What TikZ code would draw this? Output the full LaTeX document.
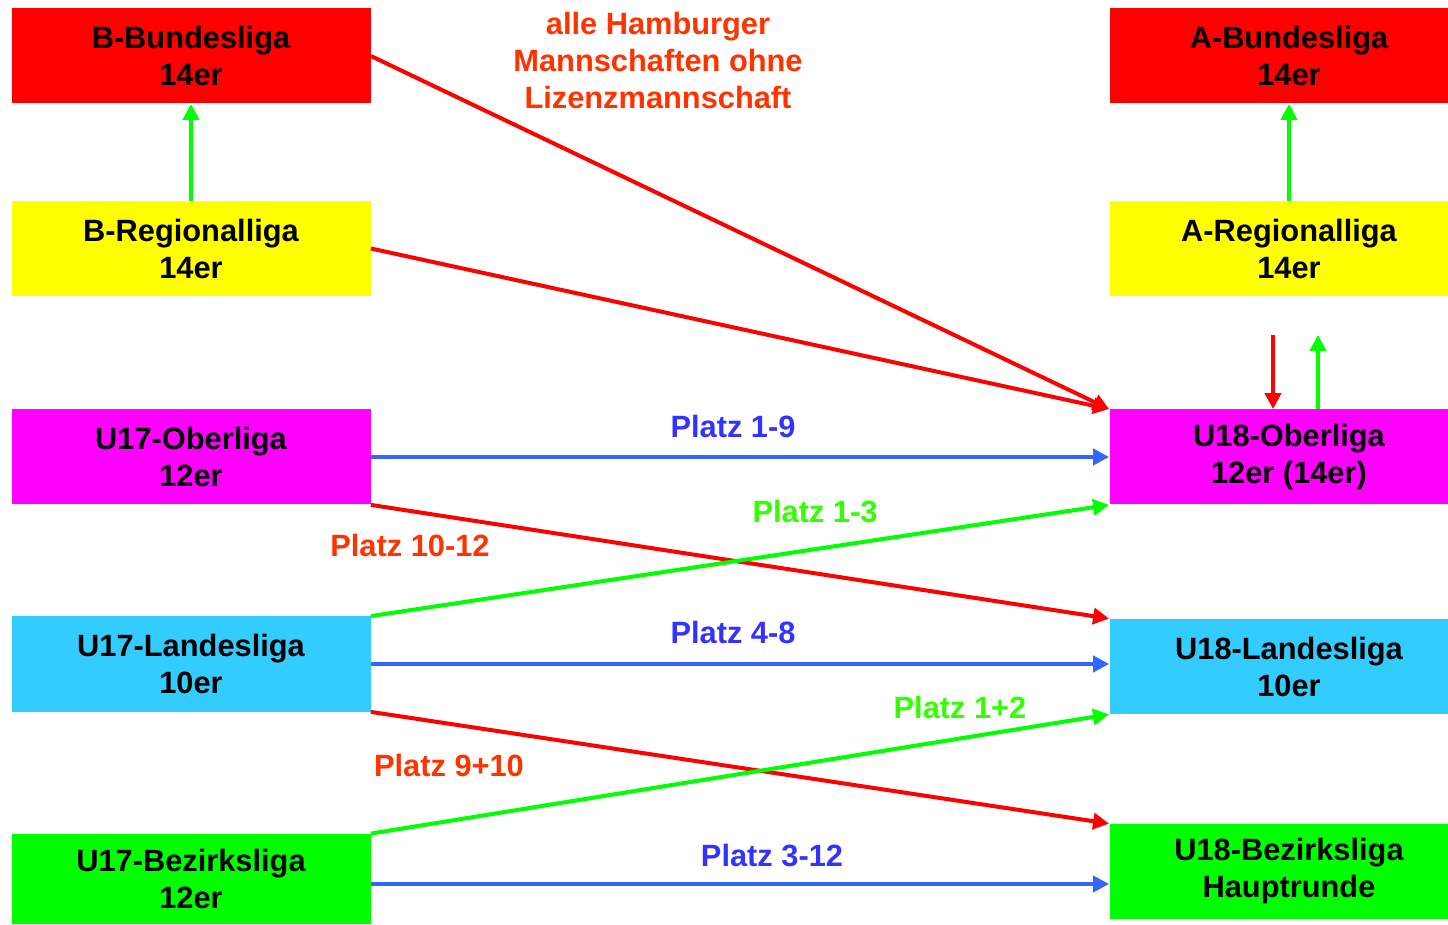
\documentclass[tikz,border=0pt]{standalone}
\usepackage{fontspec}
\setmainfont{Liberation Sans}
\usetikzlibrary{arrows.meta,calc}
\definecolor{cred}{HTML}{FF0000}
\definecolor{cyel}{HTML}{FFFF00}
\definecolor{cmag}{HTML}{FF00FF}
\definecolor{ccyan}{HTML}{33CCFF}
\definecolor{cgreen}{HTML}{00FF00}
\definecolor{lblue}{HTML}{3333FF}
\definecolor{lineblue}{HTML}{3366FF}
\definecolor{lorange}{HTML}{FF3300}
\definecolor{lgreen}{HTML}{33FF00}
\tikzset{
  box/.style={inner sep=0pt, minimum width=179.5pt, minimum height=47.5pt, align=center,
    font=\fontsize{15.4}{18.5}\selectfont\bfseries, text=black},
  lab/.style={inner sep=0pt, font=\fontsize{15.4}{18.5}\selectfont\bfseries, align=center},
  conn/.style={line width=2pt, -{Triangle[length=8pt,width=8pt]}},
}
\begin{document}
\begin{tikzpicture}[x=0.5pt,y=-0.5pt]
\useasboundingbox (0,0) rectangle (1448,925);
% left column
\node[box, fill=cred] (bb) at (191,56) {B-Bundesliga\\14er};
\node[box, fill=cyel] (br) at (191,248.5) {B-Regionalliga\\14er};
\node[box, fill=cmag] (u17o) at (191,457) {U17-Oberliga\\12er};
\node[box, fill=ccyan] (u17l) at (191,664) {U17-Landesliga\\10er};
\node[box, fill=cgreen, minimum height=45pt] (u17b) at (191,879) {U17-Bezirksliga\\12er};
% right column
\node[box, fill=cred] (ab) at (1289,56) {A-Bundesliga\\14er};
\node[box, fill=cyel] (ar) at (1289,248.5) {A-Regionalliga\\14er};
\node[box, fill=cmag] (u18o) at (1289,457) {U18-Oberliga\\12er (14er)};
\node[box, fill=ccyan] (u18l) at (1289,666.5) {U18-Landesliga\\10er};
\node[box, fill=cgreen] (u18b) at (1289,871.5) {U18-Bezirksliga\\Hauptrunde};
% text
\node[lab, text=lorange] (hh) at (658,60) {alle Hamburger\\Mannschaften ohne\\Lizenzmannschaft};
% vertical promotions
\draw[conn, draw=cgreen, fill=cgreen] (br.north) -- (bb.south);
\draw[conn, draw=cgreen, fill=cgreen] (ar.north) -- (ab.south);
\coordinate (rtop) at (1273,335);
\coordinate (gtop) at (1318,335);
\draw[conn, draw=cred, fill=cred] (rtop) -- (rtop |- u18o.north);
\draw[conn, draw=cgreen, fill=cgreen] (gtop |- u18o.north) -- (gtop);
% red into U18-Oberliga
\draw[conn, draw=cred, fill=cred] (bb.east) -- (u18o.north west);
\draw[conn, draw=cred, fill=cred] (br.east) -- (u18o.north west);
% U17-Oberliga
\draw[conn, draw=lineblue, fill=lineblue] (u17o.east) -- (u17o.east -| u18o.west);
\draw[conn, draw=cred, fill=cred] (u17o.south east) -- (u18l.north west);
% U17-Landesliga
\draw[conn, draw=cgreen, fill=cgreen] (u17l.north east) -- (u18o.south west);
\draw[conn, draw=lineblue, fill=lineblue] (u17l.east) -- (u17l.east -| u18l.west);
\draw[conn, draw=cred, fill=cred] (u17l.south east) -- (u18b.north west);
% U17-Bezirksliga
\draw[conn, draw=cgreen, fill=cgreen] (u17b.north east) -- (u18l.south west);
\coordinate (bz) at ($(u17b.east)+(0,5)$);
\draw[conn, draw=lineblue, fill=lineblue] (bz) -- (bz -| u18b.west);
% labels
\node[lab, text=lblue] (l19) at (733,426) {Platz 1-9};
\node[lab, text=lorange] (l1012) at (410,545) {Platz 10-12};
\node[lab, text=lgreen] (l13) at (815,512) {Platz 1-3};
\node[lab, text=lblue] (l48) at (733,632) {Platz 4-8};
\node[lab, text=lorange] (l910) at (449,765) {Platz 9+10};
\node[lab, text=lgreen] (l12) at (960,707) {Platz 1+2};
\node[lab, text=lblue] (l312) at (772,856) {Platz 3-12};
\end{tikzpicture}
\end{document}
